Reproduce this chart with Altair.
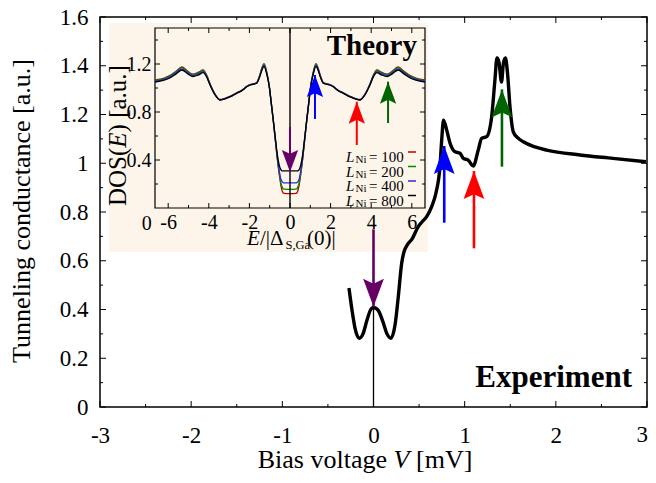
import altair as alt
import pandas as pd

SERIF = "Liberation Serif"

# ---------------- data ----------------
exp_V = [-0.269, -0.236, -0.203, -0.156, -0.115, -0.071, -0.027, 0.0, 0.049, 0.104, 0.148, 0.192,
         0.236, 0.272, 0.309, 0.334, 0.371, 0.422, 0.491, 0.532, 0.583, 0.638, 0.685, 0.729, 0.748,
         0.768, 0.803, 0.839, 0.894, 0.948, 0.985, 1.039, 1.094, 1.149, 1.186, 1.241, 1.296, 1.332,
         1.354, 1.376, 1.404, 1.425, 1.447, 1.469, 1.497, 1.533, 1.584, 1.643, 1.771, 1.899, 2.264,
         2.626, 2.988]
exp_G = [0.488, 0.398, 0.324, 0.282, 0.300, 0.357, 0.402, 0.408, 0.398, 0.349, 0.300, 0.282,
         0.336, 0.453, 0.590, 0.636, 0.665, 0.689, 0.740, 0.759, 0.781, 0.822, 0.878, 0.986, 1.095,
         1.177, 1.136, 1.083, 1.047, 1.041, 1.020, 1.013, 0.989, 1.054, 1.102, 1.109, 1.191, 1.342,
         1.432, 1.415, 1.333, 1.411, 1.432, 1.374, 1.232, 1.129, 1.104, 1.088, 1.067, 1.054, 1.034,
         1.020, 1.006]

E_vals = [-6.65, -6.2, -5.9, -5.6, -5.33, -5.05, -4.78, -4.5, -4.28, -4.1, -3.94, -3.7, -3.45, -3.2,
          -2.9, -2.63, -2.35, -2.13, -1.97, -1.82, -1.64, -1.5, -1.38, -1.28, -1.15, -1.02, -0.92,
          -0.82, -0.72, -0.62, -0.52, -0.45, -0.38, -0.3, 0.0, 0.3, 0.38, 0.45, 0.52, 0.62, 0.72,
          0.82, 0.92, 1.02, 1.15, 1.28, 1.38, 1.5, 1.64, 1.82, 1.97, 2.13, 2.35, 2.63, 2.9, 3.2, 3.45,
          3.7, 3.94, 4.1, 4.28, 4.5, 4.78, 5.05, 5.33, 5.6, 5.9, 6.2, 6.65]
dos_100 = [1.068, 1.083, 1.105, 1.142, 1.175, 1.142, 1.115, 1.132, 1.15, 1.105, 1.035, 0.95, 0.904,
           0.914, 0.934, 0.959, 0.984, 1.014, 1.029, 1.034, 1.045, 1.10, 1.168, 1.202, 1.135, 1.015,
           0.87, 0.72, 0.56, 0.40, 0.27, 0.19, 0.14, 0.122, 0.12,
           0.122, 0.14, 0.19, 0.27, 0.40, 0.56, 0.72, 0.87, 1.015, 1.135, 1.202, 1.168, 1.10, 1.045,
           1.034, 1.029, 1.014, 0.984, 0.959, 0.934, 0.914, 0.904, 0.95, 1.035, 1.105, 1.15, 1.132,
           1.115, 1.142, 1.175, 1.142, 1.105, 1.083, 1.068]
dos_200 = [1.064, 1.079, 1.101, 1.138, 1.17, 1.138, 1.111, 1.128, 1.146, 1.102, 1.033, 0.949, 0.903,
           0.913, 0.933, 0.958, 0.983, 1.013, 1.028, 1.033, 1.044, 1.098, 1.164, 1.198, 1.132, 1.014,
           0.87, 0.72, 0.565, 0.41, 0.28, 0.21, 0.172, 0.158, 0.155,
           0.158, 0.172, 0.21, 0.28, 0.41, 0.565, 0.72, 0.87, 1.014, 1.132, 1.198, 1.164, 1.098,
           1.044, 1.033, 1.028, 1.013, 0.983, 0.958, 0.933, 0.913, 0.903, 0.949, 1.033, 1.102, 1.146,
           1.128, 1.111, 1.138, 1.17, 1.138, 1.101, 1.079, 1.064]
dos_400 = [1.057, 1.072, 1.093, 1.129, 1.16, 1.129, 1.103, 1.119, 1.137, 1.096, 1.029, 0.947, 0.902,
           0.912, 0.932, 0.957, 0.982, 1.012, 1.027, 1.032, 1.042, 1.094, 1.157, 1.189, 1.126, 1.012,
           0.87, 0.725, 0.57, 0.42, 0.30, 0.24, 0.218, 0.21, 0.21,
           0.21, 0.218, 0.24, 0.30, 0.42, 0.57, 0.725, 0.87, 1.012, 1.126, 1.189, 1.157, 1.094, 1.042,
           1.032, 1.027, 1.012, 0.982, 0.957, 0.932, 0.912, 0.902, 0.947, 1.029, 1.096, 1.137, 1.119,
           1.103, 1.129, 1.16, 1.129, 1.093, 1.072, 1.057]
dos_800 = [1.05, 1.065, 1.085, 1.12, 1.15, 1.12, 1.095, 1.11, 1.128, 1.09, 1.025, 0.945, 0.90, 0.91,
           0.93, 0.955, 0.98, 1.01, 1.025, 1.03, 1.04, 1.09, 1.15, 1.18, 1.12, 1.01, 0.87, 0.73, 0.58,
           0.44, 0.35, 0.32, 0.31, 0.31, 0.31,
           0.31, 0.31, 0.32, 0.35, 0.44, 0.58, 0.73, 0.87, 1.01, 1.12, 1.18, 1.15, 1.09, 1.04, 1.03,
           1.025, 1.01, 0.98, 0.955, 0.93, 0.91, 0.90, 0.945, 1.025, 1.09, 1.128, 1.11, 1.095, 1.12,
           1.15, 1.12, 1.085, 1.065, 1.05]

L_labels = ["100", "200", "400", "800"]
L_colors = ["#b40000", "#008a00", "#2b2bd6", "#000000"]

arrow_colors = ["#660066", "#0000ff", "#ff0000", "#006400"]
arrow_dirs = ["down", "up", "up", "up"]
main_arrow_V = [0.0, 0.776, 1.102, 1.409]
main_arrow_tip = [0.411, 1.071, 0.968, 1.303]
main_arrow_tail = [0.729, 0.756, 0.651, 0.986]
inset_arrow_E = [0.0, 1.23, 3.29, 4.83]
inset_arrow_tip = [0.30, 1.108, 0.886, 1.053]
inset_arrow_tail = [0.675, 0.742, 0.525, 0.708]

x_major = [-3, -2, -1, 0, 1, 2, 3]
x_labeled = [-3, -2, -1, 0, 1, 2]      # "3" is drawn right-aligned at the frame edge
x_last = [3]
x_minor = [-2.5, -1.5, -0.5, 0.5, 1.5, 2.5]
y_major = [0, 0.2, 0.4, 0.6, 0.8, 1, 1.2, 1.4, 1.6]
y_minor = [0.1, 0.3, 0.5, 0.7, 0.9, 1.1, 1.3, 1.5]
ix_major = [-6, -4, -2, 0, 2, 4, 6]
ix_minor = [-5, -3, -1, 1, 3, 5]
iy_major = [0.4, 0.8, 1.2]
iy_minor = [0.2, 0.6, 1.0, 1.4]

# ---------------- layout ----------------
W, H = 547, 390
IX0, IX1, IYB, IYT = 55, 325, 191, 11   # inset box in pixels inside plot
XLAB_PAD = 17

mxs = alt.Scale(domain=[-3, 3], nice=False, zero=False)
mys = alt.Scale(domain=[0, 1.6], nice=False, zero=False)
ixs = alt.Scale(domain=[-6.65, 6.65], range=[IX0, IX1], nice=False, zero=False)
iys = alt.Scale(domain=[0, 1.5], range=[IYB, IYT], nice=False, zero=False)

common_ax = dict(ticks=False, tickSize=0, domain=False, grid=False, title=None,
                 labelFont=SERIF, labelColor="black", labelExpr="'' + datum.value",
                 labelFlush=False, labelOverlap=False, zindex=1)
mxax = alt.Axis(values=x_labeled, orient="bottom", labelFontSize=23, labelPadding=XLAB_PAD,
                **common_ax)
myax = alt.Axis(values=y_major, orient="left", labelFontSize=23, labelPadding=12, **common_ax)
ixax = alt.Axis(values=ix_major, orient="bottom", offset=IYB - H, labelFontSize=20,
                labelPadding=4, **common_ax)
iyax = alt.Axis(values=iy_major, orient="left", offset=-IX0, labelFontSize=20,
                labelPadding=4, **common_ax)

one = pd.DataFrame({"a": [0]})


def txt(s, x, y, size, align="left", baseline="alphabetic", style="normal",
        weight="normal", angle=0, color="black"):
    kw = dict(align=align, baseline=baseline, fontSize=size, font=SERIF,
              fontStyle=style, fontWeight=weight, color=color)
    if angle:
        kw["angle"] = angle
    return alt.Chart(one).mark_text(**kw).encode(
        x=alt.value(x), y=alt.value(y), text=alt.value(s))


UP = "M0,0L0.74,2L0,1.65L-0.74,2Z"
DOWN = "M0,0L0.74,-2L0,-1.65L-0.74,-2Z"

# ---------------- main panel ----------------
bg = pd.DataFrame({"x0": [-2.9], "x1": [0.598], "y0": [0.636], "y1": [1.575]})
bg_layer = alt.Chart(bg).mark_rect(color="#fdf5ea").encode(
    x=alt.X("x0:Q", scale=mxs, axis=mxax), x2="x1",
    y=alt.Y("y0:Q", scale=mys, axis=myax), y2="y1")


def vticks(vals, scale, axis, y0, y1):
    return alt.Chart(pd.DataFrame({"v": vals})).mark_rule(color="black", strokeWidth=1).encode(
        x=alt.X("v:Q", scale=scale, axis=axis), y=alt.value(y0), y2=alt.value(y1))


def hticks(vals, scale, axis, x0, x1):
    return alt.Chart(pd.DataFrame({"v": vals})).mark_rule(color="black", strokeWidth=1).encode(
        y=alt.Y("v:Q", scale=scale, axis=axis), x=alt.value(x0), x2=alt.value(x1))


main_ticks = [
    vticks(x_major, mxs, mxax, H, H - 6), vticks(x_minor, mxs, mxax, H, H - 3),
    vticks(x_major, mxs, mxax, 0, 6), vticks(x_minor, mxs, mxax, 0, 3),
    hticks(y_major, mys, myax, 0, 6), hticks(y_minor, mys, myax, 0, 3),
    hticks(y_major, mys, myax, W, W - 6), hticks(y_minor, mys, myax, W, W - 3),
]

last_label = alt.Chart(pd.DataFrame({"v": x_last})).mark_text(
    align="right", baseline="top", dx=1, fontSize=23, font=SERIF, color="black").encode(
    x=alt.X("v:Q", scale=mxs, axis=mxax), y=alt.value(H + XLAB_PAD),
    text=alt.Text("v:Q"))

zero_line = alt.Chart(pd.DataFrame({"v": [0], "g0": [0], "g1": [0.411]})).mark_rule(
    color="black", strokeWidth=1.3).encode(
    x=alt.X("v:Q", scale=mxs, axis=mxax), y=alt.Y("g0:Q", scale=mys, axis=myax), y2="g1")

exp_df = pd.DataFrame({"V": exp_V, "G": exp_G})
exp_line = alt.Chart(exp_df).mark_line(color="black", strokeWidth=3.4, interpolate="monotone").encode(
    x=alt.X("V:Q", scale=mxs, axis=mxax), y=alt.Y("G:Q", scale=mys, axis=myax))

marr = pd.DataFrame({"x": main_arrow_V, "tip": main_arrow_tip, "tail": main_arrow_tail,
                     "c": arrow_colors,
                     "shape": [DOWN if d == "down" else UP for d in arrow_dirs]})
m_shaft = alt.Chart(marr).mark_rule(strokeWidth=2.6).encode(
    x=alt.X("x:Q", scale=mxs, axis=mxax), y=alt.Y("tail:Q", scale=mys, axis=myax), y2="tip",
    color=alt.Color("c:N", scale=None))
m_head = alt.Chart(marr).mark_point(filled=True, opacity=1, size=784).encode(
    x=alt.X("x:Q", scale=mxs, axis=mxax), y=alt.Y("tip:Q", scale=mys, axis=myax),
    color=alt.Color("c:N", scale=None), shape=alt.Shape("shape:N", scale=None))

main_texts = [
    txt("Experiment", 532, 370, 31, align="right", weight="bold"),
    txt("Bias voltage", 287, 451, 26, align="right"),
    txt("V", 293.5, 451, 26, style="italic"),
    txt("[mV]", 316, 451, 26),
    txt("Tunneling conductance [a.u.]", -78, 194, 26, align="center", baseline="middle", angle=270),
]

main = alt.layer(bg_layer, *main_ticks, last_label, zero_line, exp_line, m_shaft, m_head,
                 *main_texts)

# ---------------- inset panel ----------------
frame = pd.DataFrame({"x0": [-6.65], "x1": [6.65], "y0": [0.0], "y1": [1.5]})
i_frame = alt.Chart(frame).mark_rect(fillOpacity=0, stroke="black", strokeWidth=1.2).encode(
    x=alt.X("x0:Q", scale=ixs, axis=ixax), x2="x1",
    y=alt.Y("y0:Q", scale=iys, axis=iyax), y2="y1")

inset_ticks = [
    vticks(ix_major, ixs, ixax, IYB, IYB - 5), vticks(ix_minor, ixs, ixax, IYB, IYB - 3),
    vticks(ix_major, ixs, ixax, IYT, IYT + 5), vticks(ix_minor, ixs, ixax, IYT, IYT + 3),
    hticks(iy_major, iys, iyax, IX0, IX0 + 5), hticks(iy_minor, iys, iyax, IX0, IX0 + 3),
    hticks(iy_major, iys, iyax, IX1, IX1 - 5), hticks(iy_minor, iys, iyax, IX1, IX1 - 3),
]

rows = []
for lab, vals in zip(L_labels, [dos_100, dos_200, dos_400, dos_800]):
    for e, d in zip(E_vals, vals):
        rows.append({"E": e, "DOS": d, "L": lab})
dos_df = pd.DataFrame(rows)
i_lines = alt.Chart(dos_df).mark_line(strokeWidth=1.3, interpolate="monotone").encode(
    x=alt.X("E:Q", scale=ixs, axis=ixax), y=alt.Y("DOS:Q", scale=iys, axis=iyax),
    stroke=alt.Stroke("L:N", scale=alt.Scale(domain=L_labels, range=L_colors), legend=None),
    order=alt.Order("E:Q"))

i_zero = alt.Chart(pd.DataFrame({"v": [0], "g0": [0], "g1": [1.5]})).mark_rule(
    color="black", strokeWidth=1.4).encode(
    x=alt.X("v:Q", scale=ixs, axis=ixax), y=alt.Y("g0:Q", scale=iys, axis=iyax), y2="g1")

iarr = pd.DataFrame({"x": inset_arrow_E, "tip": inset_arrow_tip, "tail": inset_arrow_tail,
                     "c": arrow_colors,
                     "shape": [DOWN if d == "down" else UP for d in arrow_dirs]})
i_shaft = alt.Chart(iarr).mark_rule(strokeWidth=2).encode(
    x=alt.X("x:Q", scale=ixs, axis=ixax), y=alt.Y("tail:Q", scale=iys, axis=iyax), y2="tip",
    color=alt.Color("c:N", scale=None))
i_head = alt.Chart(iarr).mark_point(filled=True, opacity=1, size=484).encode(
    x=alt.X("x:Q", scale=ixs, axis=ixax), y=alt.Y("tip:Q", scale=iys, axis=iyax),
    color=alt.Color("c:N", scale=None), shape=alt.Shape("shape:N", scale=None))

leg = pd.DataFrame({"lab": ["= " + l for l in L_labels], "c": L_colors,
                    "py": [140, 154.5, 169, 183.5]})
leg["py_sub"] = leg["py"] + 3
leg["py_dash"] = leg["py"] - 5
leg_L = alt.Chart(leg).mark_text(align="left", fontSize=15, font=SERIF, fontStyle="italic",
                                 color="black").encode(
    x=alt.value(246), y=alt.Y("py:Q", scale=None), text=alt.value("L"))
leg_Ni = alt.Chart(leg).mark_text(align="left", fontSize=11, font=SERIF, color="black").encode(
    x=alt.value(255.5), y=alt.Y("py_sub:Q", scale=None), text=alt.value("Ni"))
leg_val = alt.Chart(leg).mark_text(align="left", fontSize=15, font=SERIF, color="black").encode(
    x=alt.value(269), y=alt.Y("py:Q", scale=None), text="lab:N")
leg_dash = alt.Chart(leg).mark_rule(strokeWidth=1.5).encode(
    x=alt.value(308), x2=alt.value(316), y=alt.Y("py_dash:Q", scale=None),
    color=alt.Color("c:N", scale=None))

inset_texts = [
    txt("Theory", 317, 38, 29, align="right", weight="bold"),
    txt("0", 46.7, 213, 20, align="center"),
    txt("E", 147, 228, 21, style="italic"),
    txt("/|\u0394", 160, 228, 21),
    txt("S,Ga", 185.5, 232, 12.5),
    txt("(0)|", 207, 228, 21),
    txt("DOS(", 26, 189, 25, angle=270),
    txt("E", 26, 130.7, 25, angle=270, style="italic"),
    txt(") [a.u.]", 26, 115.4, 25, angle=270),
]

inset = alt.layer(i_frame, *inset_ticks, i_lines, i_zero, i_shaft, i_head,
                  leg_L, leg_Ni, leg_val, leg_dash, *inset_texts)

chart = alt.layer(main, inset).resolve_scale(x="independent", y="independent").properties(
    width=W, height=H,
    padding={"left": 92, "top": 9, "right": 1, "bottom": 68},
    autosize=alt.AutoSizeParams(type="none"),
).configure_view(stroke="black", strokeWidth=1.5).configure_axis(grid=False)

chart.save("out.html", embed_options={"renderer": "svg", "actions": False})
